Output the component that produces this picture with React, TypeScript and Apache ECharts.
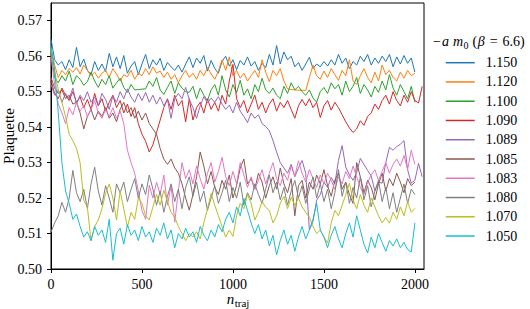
import React, { useEffect, useRef } from "react";
import * as echarts from "echarts";

// trajectory spacing between stored measurements
const N_STEP = 20;

const SERIES_NAMES = ["1.150", "1.120", "1.100", "1.090", "1.089", "1.085", "1.083", "1.080", "1.070", "1.050"];
const COLORS = ["#1f77b4", "#ff7f0e", "#2ca02c", "#d62728", "#9467bd", "#8c564b", "#e377c2", "#7f7f7f", "#bcbd22", "#17becf"];

const X_TICKS = [0, 500, 1000, 1500, 2000];
const Y_TICKS = [0.5, 0.51, 0.52, 0.53, 0.54, 0.55, 0.56, 0.57];

const m1150 = [
  0.5648, 0.5590, 0.5575, 0.5585, 0.5562, 0.5590, 0.5568, 0.5625, 0.5570, 0.5592,
  0.5560, 0.5548, 0.5585, 0.5560, 0.5578, 0.5557, 0.5608, 0.5570, 0.5598, 0.5565,
  0.5602, 0.5552, 0.5572, 0.5585, 0.5548, 0.5578, 0.5605, 0.5565, 0.5590, 0.5575,
  0.5594, 0.5560, 0.5582, 0.5570, 0.5560, 0.5575, 0.5555, 0.5578, 0.5598, 0.5568,
  0.5595, 0.5580, 0.5602, 0.5558, 0.5588, 0.5565, 0.5552, 0.5585, 0.5600, 0.5572,
  0.5590, 0.5562, 0.5588, 0.5575, 0.5598, 0.5572, 0.5585, 0.5560, 0.5580, 0.5568,
  0.5605, 0.5575, 0.5630, 0.5578, 0.5612, 0.5590, 0.5600, 0.5570, 0.5582, 0.5560,
  0.5578, 0.5597, 0.5565, 0.5578, 0.5570, 0.5585, 0.5572, 0.5590, 0.5575, 0.5605,
  0.5580, 0.5595, 0.5565, 0.5585, 0.5575, 0.5600, 0.5585, 0.5605, 0.5575, 0.5595,
  0.5580, 0.5600, 0.5585, 0.5605, 0.5570, 0.5598, 0.5578, 0.5602, 0.5580, 0.5595,
  0.5555,
];

const m1120 = [
  0.5622, 0.5575, 0.5540, 0.5560, 0.5548, 0.5565, 0.5555, 0.5568, 0.5550, 0.5575,
  0.5560, 0.5545, 0.5555, 0.5538, 0.5552, 0.5560, 0.5540, 0.5565, 0.5550, 0.5530,
  0.5548, 0.5542, 0.5560, 0.5535, 0.5552, 0.5545, 0.5565, 0.5548, 0.5570, 0.5552,
  0.5558, 0.5540, 0.5555, 0.5535, 0.5548, 0.5525, 0.5545, 0.5560, 0.5540, 0.5552,
  0.5535, 0.5560, 0.5545, 0.5568, 0.5550, 0.5535, 0.5558, 0.5590, 0.5560, 0.5598,
  0.5545, 0.5560, 0.5538, 0.5552, 0.5530, 0.5545, 0.5560, 0.5540, 0.5590, 0.5555,
  0.5528, 0.5560, 0.5545, 0.5565, 0.5530, 0.5508, 0.5506, 0.5505, 0.5504, 0.5504,
  0.5503, 0.5540, 0.5575, 0.5545, 0.5535, 0.5558, 0.5540, 0.5565, 0.5548, 0.5532,
  0.5560, 0.5545, 0.5590, 0.5530, 0.5520, 0.5545, 0.5565, 0.5540, 0.5525, 0.5555,
  0.5530, 0.5575, 0.5548, 0.5560, 0.5540, 0.5530, 0.5555, 0.5538, 0.5560, 0.5545,
  0.5552,
];

const m1100 = [
  0.5610, 0.5540, 0.5525, 0.5545, 0.5530, 0.5558, 0.5520, 0.5545, 0.5535, 0.5518,
  0.5528, 0.5555, 0.5530, 0.5512, 0.5535, 0.5520, 0.5545, 0.5510, 0.5525, 0.5538,
  0.5512, 0.5498, 0.5520, 0.5505, 0.5506, 0.5507, 0.5508, 0.5530, 0.5515, 0.5540,
  0.5505, 0.5492, 0.5512, 0.5530, 0.5495, 0.5525, 0.5510, 0.5500, 0.5498, 0.5515,
  0.5480, 0.5510, 0.5490, 0.5475, 0.5505, 0.5520, 0.5490, 0.5545, 0.5505, 0.5485,
  0.5520, 0.5497, 0.5532, 0.5490, 0.5508, 0.5480, 0.5520, 0.5500, 0.5538, 0.5505,
  0.5495, 0.5510, 0.5490, 0.5480, 0.5515, 0.5495, 0.5525, 0.5505, 0.5515, 0.5500,
  0.5490, 0.5505, 0.5482, 0.5470, 0.5500, 0.5512, 0.5495, 0.5525, 0.5508, 0.5520,
  0.5490, 0.5530, 0.5500, 0.5515, 0.5540, 0.5495, 0.5520, 0.5505, 0.5485, 0.5515,
  0.5498, 0.5530, 0.5505, 0.5548, 0.5510, 0.5490, 0.5520, 0.5500, 0.5480, 0.5515,
  0.5470,
];

const m1090 = [
  0.5530, 0.5495, 0.5480, 0.5510, 0.5490, 0.5475, 0.5500, 0.5470, 0.5485, 0.5455,
  0.5478, 0.5450, 0.5495, 0.5460, 0.5480, 0.5445, 0.5470, 0.5490, 0.5455, 0.5475,
  0.5440, 0.5465, 0.5430, 0.5455, 0.5410, 0.5380, 0.5360, 0.5330, 0.5350, 0.5385,
  0.5420, 0.5455, 0.5480, 0.5450, 0.5490, 0.5460, 0.5475, 0.5415, 0.5480, 0.5420,
  0.5455, 0.5470, 0.5440, 0.5480, 0.5450, 0.5470, 0.5445, 0.5490, 0.5465, 0.5530,
  0.5577, 0.5480, 0.5455, 0.5475, 0.5440, 0.5465, 0.5490, 0.5450, 0.5470, 0.5440,
  0.5465, 0.5480, 0.5445, 0.5470, 0.5455, 0.5475, 0.5450, 0.5425, 0.5460, 0.5478,
  0.5460, 0.5480, 0.5455, 0.5470, 0.5427, 0.5460, 0.5475, 0.5448, 0.5470, 0.5455,
  0.5435, 0.5415, 0.5398, 0.5385, 0.5395, 0.5418, 0.5405, 0.5430, 0.5440, 0.5465,
  0.5450, 0.5475, 0.5490, 0.5465, 0.5500, 0.5475, 0.5460, 0.5490, 0.5470, 0.5500,
  0.5475, 0.5468, 0.5515,
];

const m1089 = [
  0.5520, 0.5490, 0.5505, 0.5470, 0.5495, 0.5480, 0.5510, 0.5465, 0.5490, 0.5475,
  0.5500, 0.5470, 0.5485, 0.5460, 0.5495, 0.5478, 0.5450, 0.5488, 0.5470, 0.5500,
  0.5480, 0.5508, 0.5485, 0.5470, 0.5495, 0.5475, 0.5498, 0.5470, 0.5490, 0.5465,
  0.5485, 0.5460, 0.5478, 0.5425, 0.5480, 0.5495, 0.5480, 0.5512, 0.5478, 0.5455,
  0.5425, 0.5460, 0.5486, 0.5468, 0.5482, 0.5470, 0.5486, 0.5465, 0.5450, 0.5462,
  0.5440, 0.5470, 0.5445, 0.5430, 0.5413, 0.5440, 0.5425, 0.5435, 0.5410, 0.5402,
  0.5390, 0.5362, 0.5330, 0.5300, 0.5285, 0.5270, 0.5295, 0.5260, 0.5285, 0.5306,
  0.5270, 0.5110, 0.5135, 0.5194, 0.5210, 0.5245, 0.5230, 0.5258, 0.5240, 0.5306,
  0.5348, 0.5287, 0.5265, 0.5250, 0.5272, 0.5312, 0.5295, 0.5278, 0.5262, 0.5220,
  0.5245, 0.5242, 0.5300, 0.5343, 0.5335, 0.5345, 0.5352, 0.5362, 0.5280, 0.5242,
  0.5250, 0.5298, 0.5260,
];

const m1085 = [
  0.5540, 0.5510, 0.5495, 0.5505, 0.5480, 0.5490, 0.5465, 0.5470, 0.5440, 0.5395,
  0.5430, 0.5450, 0.5420, 0.5445, 0.5430, 0.5455, 0.5425, 0.5440, 0.5415, 0.5450,
  0.5470, 0.5440, 0.5455, 0.5425, 0.5445, 0.5420, 0.5440, 0.5410, 0.5395, 0.5380,
  0.5340, 0.5310, 0.5295, 0.5310, 0.5285, 0.5270, 0.5240, 0.5200, 0.5166, 0.5210,
  0.5260, 0.5330, 0.5290, 0.5240, 0.5275, 0.5230, 0.5210, 0.5250, 0.5225, 0.5265,
  0.5200, 0.5235, 0.5285, 0.5310, 0.5240, 0.5255, 0.5225, 0.5270, 0.5245, 0.5200,
  0.5235, 0.5260, 0.5225, 0.5285, 0.5240, 0.5215, 0.5255, 0.5150, 0.5235, 0.5250,
  0.5200, 0.5245, 0.5225, 0.5265, 0.5240, 0.5280, 0.5235, 0.5205, 0.5250, 0.5270,
  0.5225, 0.5245, 0.5210, 0.5185, 0.5300, 0.5260, 0.5215, 0.5250, 0.5230, 0.5195,
  0.5240, 0.5270, 0.5220, 0.5255, 0.5235, 0.5270, 0.5245, 0.5215, 0.5255, 0.5235,
  0.5245,
];

const m1083 = [
  0.5600, 0.5520, 0.5465, 0.5440, 0.5410, 0.5455, 0.5435, 0.5470, 0.5445, 0.5460,
  0.5430, 0.5450, 0.5475, 0.5440, 0.5425, 0.5450, 0.5430, 0.5455, 0.5425, 0.5445,
  0.5410, 0.5335, 0.5300, 0.5270, 0.5220, 0.5165, 0.5140, 0.5236, 0.5200, 0.5245,
  0.5210, 0.5265, 0.5180, 0.5235, 0.5132, 0.5220, 0.5300, 0.5255, 0.5280, 0.5240,
  0.5290, 0.5255, 0.5225, 0.5270, 0.5300, 0.5245, 0.5275, 0.5315, 0.5260, 0.5235,
  0.5275, 0.5240, 0.5300, 0.5265, 0.5230, 0.5260, 0.5225, 0.5250, 0.5280, 0.5240,
  0.5270, 0.5300, 0.5255, 0.5235, 0.5270, 0.5250, 0.5290, 0.5262, 0.5305, 0.5270,
  0.5245, 0.5280, 0.5255, 0.5230, 0.5265, 0.5240, 0.5270, 0.5250, 0.5225, 0.5260,
  0.5240, 0.5275, 0.5255, 0.5290, 0.5260, 0.5230, 0.5210, 0.5245, 0.5265, 0.5280,
  0.5250, 0.5275, 0.5300, 0.5270, 0.5295, 0.5310, 0.5290, 0.5320, 0.5280, 0.5335,
  0.5295,
];

const m1080 = [
  0.5104, 0.5130, 0.5150, 0.5188, 0.5160, 0.5200, 0.5278, 0.5215, 0.5190, 0.5225,
  0.5170, 0.5240, 0.5287, 0.5220, 0.5180, 0.5235, 0.5200, 0.5160, 0.5240, 0.5215,
  0.5245, 0.5190, 0.5225, 0.5255, 0.5200, 0.5240, 0.5210, 0.5265, 0.5225, 0.5180,
  0.5220, 0.5160, 0.5205, 0.5240, 0.5190, 0.5225, 0.5170, 0.5230, 0.5260, 0.5205,
  0.5245, 0.5190, 0.5220, 0.5165, 0.5200, 0.5235, 0.5185, 0.5215, 0.5250, 0.5190,
  0.5230, 0.5200, 0.5245, 0.5180, 0.5215, 0.5195, 0.5240, 0.5210, 0.5185, 0.5225,
  0.5265, 0.5215, 0.5245, 0.5195, 0.5230, 0.5180, 0.5220, 0.5250, 0.5200, 0.5235,
  0.5185, 0.5225, 0.5260, 0.5200, 0.5240, 0.5190, 0.5225, 0.5170, 0.5215, 0.5280,
  0.5205, 0.5245, 0.5185, 0.5230, 0.5200, 0.5260, 0.5195, 0.5235, 0.5175, 0.5220,
  0.5250, 0.5190, 0.5230, 0.5170, 0.5215, 0.5160, 0.5200, 0.5240, 0.5185, 0.5225,
  0.5210,
];

const m1070 = [
  0.5620, 0.5560, 0.5505, 0.5470, 0.5430, 0.5380, 0.5362, 0.5340, 0.5300, 0.5194,
  0.5174, 0.5080, 0.5120, 0.5138, 0.5170, 0.5213, 0.5240, 0.5200, 0.5138, 0.5220,
  0.5170, 0.5118, 0.5160, 0.5140, 0.5200, 0.5185, 0.5150, 0.5138, 0.5175, 0.5210,
  0.5180, 0.5222, 0.5190, 0.5160, 0.5146, 0.5120, 0.5100, 0.5080, 0.5100, 0.5090,
  0.5105, 0.5085, 0.5130, 0.5170, 0.5213, 0.5180, 0.5150, 0.5120, 0.5090, 0.5110,
  0.5092, 0.5150, 0.5185, 0.5170, 0.5210, 0.5185, 0.5138, 0.5160, 0.5190, 0.5174,
  0.5165, 0.5130, 0.5150, 0.5185, 0.5205, 0.5170, 0.5202, 0.5180, 0.5200, 0.5175,
  0.5160, 0.5146, 0.5120, 0.5100, 0.5110, 0.5090, 0.5073, 0.5130, 0.5165, 0.5150,
  0.5180, 0.5210, 0.5242, 0.5195, 0.5170, 0.5210, 0.5180, 0.5160, 0.5200, 0.5175,
  0.5150, 0.5130, 0.5145, 0.5129, 0.5160, 0.5140, 0.5175, 0.5150, 0.5190, 0.5160,
  0.5171,
];

const m1050 = [
  0.5630, 0.5560, 0.5440, 0.5300, 0.5220, 0.5185, 0.5140, 0.5155, 0.5120, 0.5090,
  0.5105, 0.5080, 0.5120, 0.5095, 0.5110, 0.5075, 0.5140, 0.5025, 0.5100, 0.5115,
  0.5070, 0.5125, 0.5095, 0.5110, 0.5080, 0.5120, 0.5090, 0.5105, 0.5075, 0.5115,
  0.5095, 0.5130, 0.5085, 0.5110, 0.5060, 0.5100, 0.5085, 0.5115, 0.5090, 0.5105,
  0.5075, 0.5120, 0.5095, 0.5080, 0.5110, 0.5090, 0.5125, 0.5105, 0.5140, 0.5160,
  0.5130, 0.5175, 0.5150, 0.5199, 0.5165, 0.5130, 0.5100, 0.5125, 0.5085, 0.5110,
  0.5065, 0.5095, 0.5040, 0.5080, 0.5110, 0.5070, 0.5095, 0.5050, 0.5090, 0.5120,
  0.5085, 0.5110, 0.5140, 0.5185, 0.5110, 0.5090, 0.5060, 0.5095, 0.5120, 0.5085,
  0.5060, 0.5100, 0.5130, 0.5090, 0.5150, 0.5110, 0.5070, 0.5045, 0.5090, 0.5060,
  0.5100, 0.5075, 0.5050, 0.5080, 0.5065, 0.5085, 0.5060, 0.5075, 0.5055, 0.5048,
  0.5130,
];

const SERIES_VALUES = [m1150, m1120, m1100, m1090, m1089, m1085, m1083, m1080, m1070, m1050];

const FONT = "Liberation Serif, serif";

function measure(text: string, size: number, italic: boolean): number {
  const ctx = document.createElement("canvas").getContext("2d");
  if (!ctx) return text.length * size * 0.5;
  ctx.font = `${italic ? "italic " : ""}${size}px ${FONT}`;
  return ctx.measureText(text).width;
}

type Piece = { t: string; size: number; italic?: boolean; dy?: number; gap?: number };

function buildPieces(pieces: Piece[], x0: number, yc: number) {
  let x = x0;
  const out: any[] = [];
  for (const p of pieces) {
    x += p.gap || 0;
    out.push({
      type: "text",
      x,
      y: yc + (p.dy || 0),
      silent: true,
      style: {
        text: p.t,
        fontFamily: FONT,
        fontSize: p.size,
        fontStyle: p.italic ? "italic" : "normal",
        fill: "#000",
        align: "left",
        verticalAlign: "middle",
      },
    });
    x += measure(p.t, p.size, !!p.italic);
  }
  return out;
}

function piecesWidth(pieces: Piece[]) {
  return pieces.reduce((s, p) => s + (p.gap || 0) + measure(p.t, p.size, !!p.italic), 0);
}

export default function App() {
  const ref = useRef<HTMLDivElement>(null);

  useEffect(() => {
    if (!ref.current) return;
    const chart = echarts.init(ref.current, undefined, { renderer: "svg" });

    const titlePieces: Piece[] = [
      { t: "\u2212", size: 14 },
      { t: "a", size: 14, italic: true, gap: 1 },
      { t: "m", size: 14, italic: true, gap: 4 },
      { t: "0", size: 10, dy: 3.5, gap: 0.5 },
      { t: "(", size: 14, gap: 4 },
      { t: "\u03b2", size: 14, italic: true, gap: 0.5 },
      { t: "=", size: 14, gap: 5 },
      { t: "6.6)", size: 14, gap: 5 },
    ];

    const xLabelPieces: Piece[] = [
      { t: "n", size: 15, italic: true },
      { t: "traj", size: 11, dy: 4, gap: 0.5 },
    ];
    const xlw = piecesWidth(xLabelPieces);

    const series = SERIES_VALUES.map((vals, k) => ({
      name: SERIES_NAMES[k],
      type: "line",
      symbol: "none",
      showSymbol: false,
      data: vals.map((v, i) => [i * N_STEP, v]),
      lineStyle: { width: 1, color: COLORS[k] },
      itemStyle: { color: COLORS[k] },
      emphasis: { disabled: true },
    }));

    chart.setOption({
      animation: false,
      backgroundColor: "#fff",
      grid: { left: 51, right: 106, top: 3, bottom: 40, show: true, borderColor: "#000", borderWidth: 1, backgroundColor: "transparent" },
      xAxis: {
        type: "value",
        min: 0,
        max: 2050,
        axisLine: { show: true, onZero: false, lineStyle: { color: "#000", width: 1 } },
        axisTick: { show: true, length: 4, inside: false, customValues: X_TICKS, lineStyle: { color: "#000" } },
        axisLabel: { customValues: X_TICKS, margin: 8, fontFamily: FONT, fontSize: 14, color: "#000", formatter: (v: number) => String(v) },
        splitLine: { show: false },
      },
      yAxis: {
        type: "value",
        min: 0.5,
        max: 0.575,
        axisLine: { show: true, onZero: false, lineStyle: { color: "#000", width: 1 } },
        axisTick: { show: true, length: 4, inside: false, customValues: Y_TICKS, lineStyle: { color: "#000" } },
        axisLabel: { customValues: Y_TICKS, margin: 9, fontFamily: FONT, fontSize: 14, color: "#000", formatter: (v: number) => v.toFixed(2) },
        splitLine: { show: false },
      },
      legend: {
        orient: "vertical",
        left: 445,
        top: 55.7,
        padding: 0,
        itemWidth: 29,
        itemHeight: 14,
        itemGap: 5.26,
        data: SERIES_NAMES,
        itemStyle: { opacity: 0, borderWidth: 0 },
        lineStyle: { width: 1.5 },
        formatter: (name: string) => `{g|}{t|${name}}`,
        textStyle: {
          fontFamily: FONT,
          fontSize: 14,
          color: "#000",
          rich: {
            g: { width: 6 },
            t: { fontFamily: FONT, fontSize: 14, color: "#000" },
          },
        },
        selectedMode: false,
      },
      graphic: [
        ...buildPieces(titlePieces, 433, 41.7),
        ...buildPieces(xLabelPieces, 238 - xlw / 2, 298.5),
        {
          type: "text",
          x: 9,
          y: 136,
          rotation: Math.PI / 2,
          silent: true,
          style: { text: "Plaquette", fontFamily: FONT, fontSize: 15, fill: "#000", align: "center", verticalAlign: "middle" },
        },
      ],
      series,
    });

    return () => chart.dispose();
  }, []);

  return (
    <div
      ref={ref}
      style={{ position: "fixed", left: 0, top: 0, width: 530, height: 309, background: "#fff" }}
    />
  );
}
